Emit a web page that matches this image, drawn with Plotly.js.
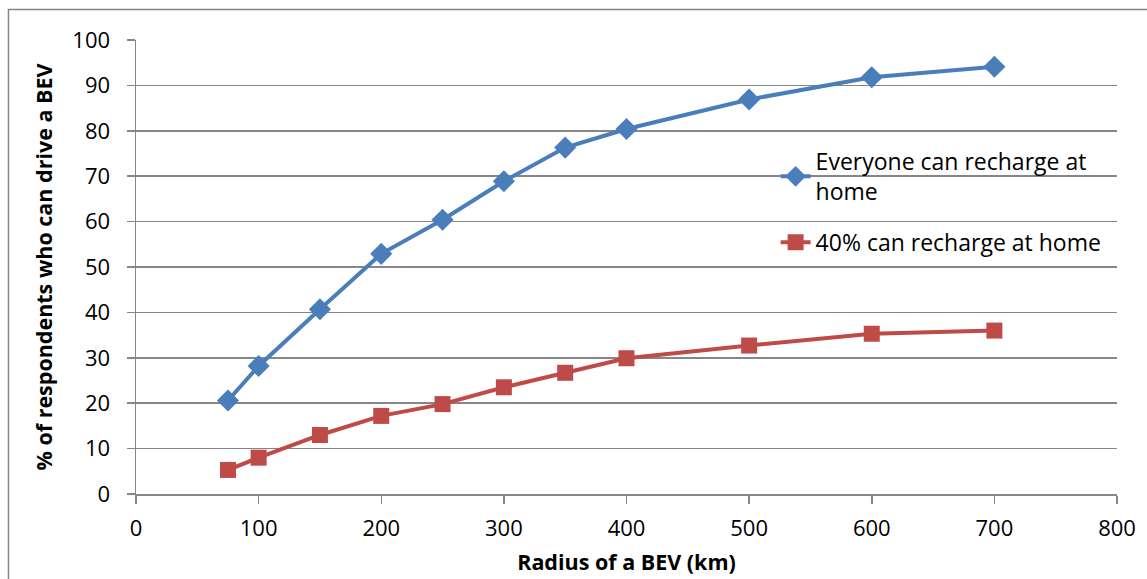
<!DOCTYPE html>
<html>
<head>
<meta charset="utf-8">
<script src="https://cdn.plot.ly/plotly-3.0.1.min.js"></script>
<style>
html,body{margin:0;padding:0;background:#fff;}
#chart{width:1147px;height:579px;}
</style>
</head>
<body>
<div id="chart"></div>
<script>
const radius = [75, 100, 150, 200, 250, 300, 350, 400, 500, 600, 700];
const everyone = [20.6, 28.2, 40.7, 52.9, 60.4, 68.9, 76.3, 80.4, 86.9, 91.8, 94.1];
const forty = [5.3, 8.0, 13.0, 17.2, 19.8, 23.5, 26.7, 29.9, 32.7, 35.3, 36.0];
const seriesNames = ["Everyone can recharge at<br>home", "40% can recharge at home"];
const xTicks = [0, 100, 200, 300, 400, 500, 600, 700, 800];
const yTicks = [0, 10, 20, 30, 40, 50, 60, 70, 80, 90, 100];

const font = "'Open Sans', sans-serif";
const traces = [
  {x: radius, y: everyone, name: seriesNames[0], legendgroup: 'a', type: 'scatter', mode: 'lines+markers',
   line: {color: '#4A7EBB', width: 4}, marker: {symbol: 'diamond', size: 17, color: '#4A7EBB'}},
  {x: radius, y: forty, name: seriesNames[1], legendgroup: 'b', type: 'scatter', mode: 'lines+markers',
   line: {color: '#BE4B48', width: 4}, marker: {symbol: 'square', size: 16, color: '#BE4B48'}}
];
const layout = {
  width: 1147, height: 579,
  margin: {l: 136, r: 30, t: 40, b: 85},
  paper_bgcolor: '#fff', plot_bgcolor: '#fff',
  font: {family: font, size: 22, color: '#000'},
  showlegend: true,
  legend: {x: 0.652, y: 0.78, xanchor: 'left', yanchor: 'top', bgcolor: 'rgba(0,0,0,0)',
           font: {size: 23, family: font}, tracegroupgap: 18},
  xaxis: {range: [0, 800], tickvals: xTicks, ticktext: xTicks.map(String), showgrid: false,
          showline: true, linecolor: '#868686', linewidth: 1.5, ticks: 'outside', ticklen: 8,
          tickcolor: '#868686', tickwidth: 1.5, zeroline: false, ticklabelstandoff: 6,
          title: {text: '<b>Radius of a BEV (km)</b>', font: {size: 21.5}, standoff: 14}},
  yaxis: {range: [0, 100], tickvals: yTicks, ticktext: yTicks.map(String), showgrid: true,
          gridcolor: '#868686', gridwidth: 1.5, showline: true, linecolor: '#868686', linewidth: 1.5,
          ticks: 'outside', ticklen: 8, tickcolor: '#868686', tickwidth: 1.5, zeroline: false,
          ticklabelstandoff: 12,
          title: {text: '<b>% of respondents who can drive a BEV</b>', font: {size: 21.5}, standoff: 14}},
  shapes: [{type: 'rect', xref: 'paper', yref: 'paper', x0: -0.13, x1: 1.04, y0: -0.3, y1: 1.067,
            line: {color: '#868686', width: 1.5}, fillcolor: 'rgba(0,0,0,0)', layer: 'below'}]
};
Plotly.newPlot('chart', traces, layout, {displayModeBar: false, staticPlot: true});
</script>
</body>
</html>
